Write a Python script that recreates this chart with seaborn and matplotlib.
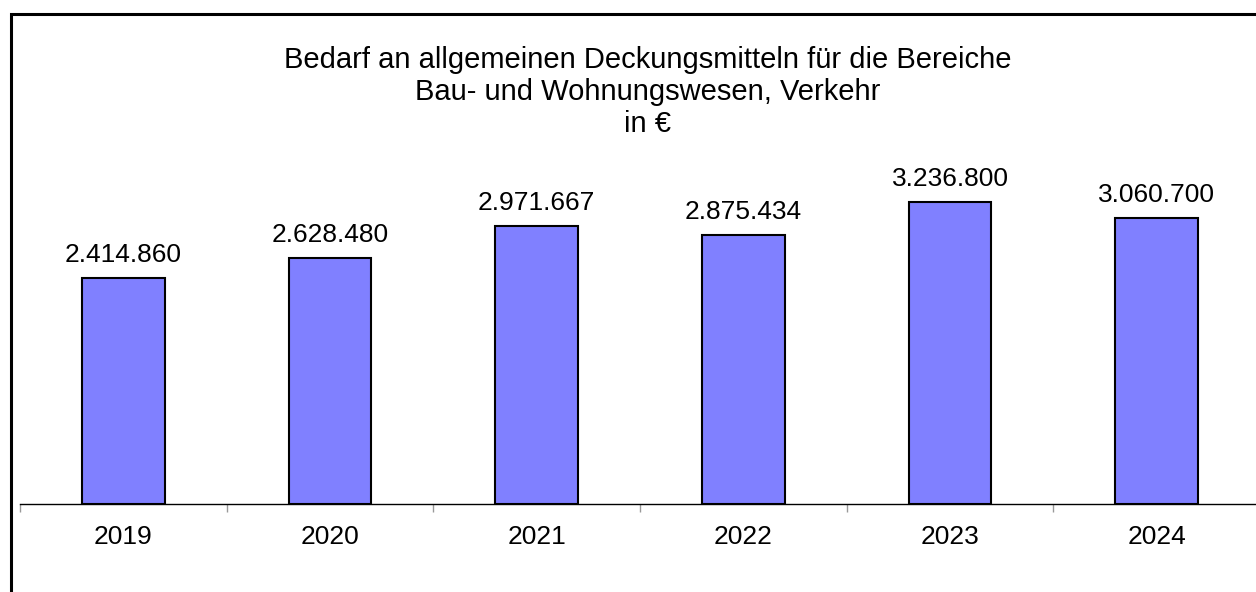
import numpy as np
import pandas as pd
import matplotlib
matplotlib.use("Agg")
import matplotlib.pyplot as plt
import seaborn as sns
from matplotlib.patches import Rectangle
from matplotlib.ticker import FixedLocator

# Bedarf an allgemeinen Deckungsmitteln (Bau- und Wohnungswesen, Verkehr) in EUR
years = ["2019", "2020", "2021", "2022", "2023", "2024"]
values = [2414860, 2628480, 2971667, 2875434, 3236800, 3060700]

df = pd.DataFrame({"Jahr": years, "Betrag": values})

sns.set_theme(style="white")
plt.rcParams["font.family"] = ["Liberation Sans", "DejaVu Sans"]
plt.rcParams["text.color"] = "black"
plt.rcParams["xtick.color"] = "black"

fig = plt.figure(figsize=(12.56, 5.92), dpi=100)
ax = fig.add_axes([20 / 1256, 88 / 592, 1240 / 1256, 355 / 592])

sns.barplot(data=df, x="Jahr", y="Betrag", color="#8080FF", saturation=1,
            width=0.4, edgecolor="black", linewidth=1.5, ax=ax)

ax.set_xlim(-0.5, len(years) - 0.5)
ax.set_ylim(0, 3.8e6)

# value labels with German thousands separator
labels = [f"{v:,.0f}".replace(",", ".") for v in values]
ax.bar_label(ax.containers[0], labels=labels, padding=8, fontsize=19,
             color="black")

for s in ["top", "left", "right"]:
    ax.spines[s].set_visible(False)
ax.spines["bottom"].set_color("black")
ax.spines["bottom"].set_linewidth(1)
ax.set_yticks([])
ax.set_xlabel("")
ax.set_ylabel("")

ax.tick_params(axis="x", which="major", length=0, pad=15, labelsize=19,
               labelcolor="black")
ax.xaxis.set_minor_locator(FixedLocator(np.arange(-0.5, len(years), 1.0)))
ax.tick_params(axis="x", which="minor", bottom=True, length=6, width=1,
               color="#999999")

fig.text(648 / 1256, 1 - 92 / 592,
         "Bedarf an allgemeinen Deckungsmitteln für die Bereiche\n"
         "Bau- und Wohnungswesen, Verkehr\nin €",
         ha="center", va="center", fontsize=21, linespacing=1.2,
         color="black")

# frame around the chart (runs off the right and bottom edge)
fig.patches.append(Rectangle((10.5 / 1256, -0.1), 1.2, 1 - 13.5 / 592 + 0.1,
                             transform=fig.transFigure, fill=False,
                             edgecolor="black", linewidth=2.2))

fig.savefig("out.png", dpi=100)
